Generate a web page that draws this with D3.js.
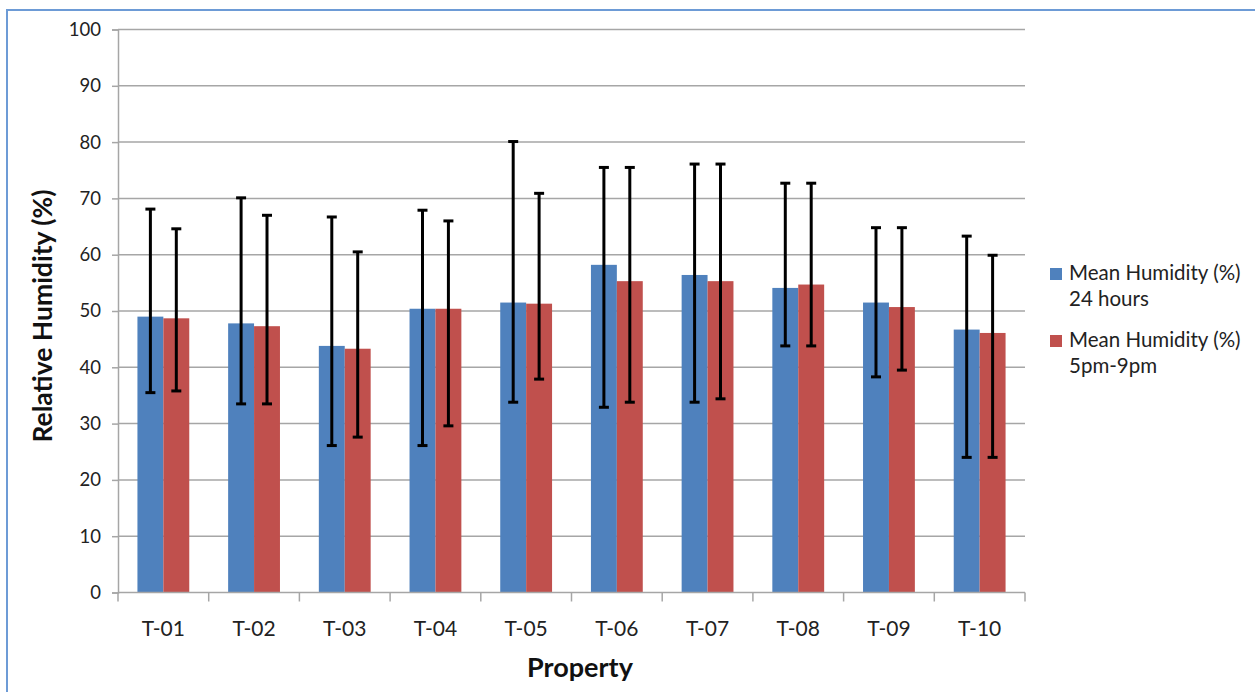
<!DOCTYPE html>
<html><head><meta charset="utf-8">
<script src="https://cdn.jsdelivr.net/npm/d3@7"></script>
<style>body{margin:0;background:#fff;} svg{display:block;font-family:Lato,"Open Sans",sans-serif;}</style>
</head><body>
<script>
const categories = ["T-01","T-02","T-03","T-04","T-05","T-06","T-07","T-08","T-09","T-10"];
const seriesNames = ["Mean Humidity (%) 24 hours", "Mean Humidity (%) 5pm-9pm"];
const legendLines = [["Mean Humidity (%)","24 hours"],["Mean Humidity (%)","5pm-9pm"]];
const mean24 = [49.0, 47.8, 43.8, 50.4, 51.5, 58.2, 56.4, 54.1, 51.5, 46.7];
const meanEve = [48.7, 47.3, 43.3, 50.4, 51.3, 55.3, 55.3, 54.7, 50.7, 46.1];
const hi24 = [68.1, 70.1, 66.7, 67.9, 80.1, 75.5, 76.1, 72.7, 64.8, 63.3];
const lo24 = [35.5, 33.5, 26.1, 26.1, 33.8, 32.9, 33.8, 43.8, 38.3, 24.0];
const hiEve = [64.6, 67.0, 60.5, 66.0, 70.9, 75.5, 76.1, 72.7, 64.8, 59.9];
const loEve = [35.8, 33.5, 27.6, 29.6, 37.9, 33.8, 34.4, 43.8, 39.5, 24.0];
const yTicks = [0,10,20,30,40,50,60,70,80,90,100];
const colors = ["#4f81bd","#c0504d"];

const W = 1255, H = 692;
const m = {left:118, right:1025, top:29.5, bottom:592.5};
const svg = d3.select("body").append("svg").attr("width",W).attr("height",H);

// outer border
svg.append("rect").attr("x",7).attr("y",10).attr("width",1300).attr("height",800)
  .attr("fill","none").attr("stroke","#6d9bd6").attr("stroke-width",2);

const x = d3.scaleBand().domain(categories).range([m.left,m.right]).paddingInner(0).paddingOuter(0);
const y = d3.scaleLinear().domain([0,100]).range([m.bottom,m.top]);

// gridlines
svg.append("g").selectAll("line").data(yTicks.filter(d=>d>0)).join("line")
  .attr("x1",m.left).attr("x2",m.right).attr("y1",d=>y(d)).attr("y2",d=>y(d))
  .attr("stroke","#a6a6a6").attr("stroke-width",1.5);

// y axis
const yAxis = svg.append("g").attr("transform",`translate(${m.left},0)`)
  .call(d3.axisLeft(y).tickValues(yTicks).tickSize(6).tickPadding(11));
yAxis.select(".domain").attr("stroke","#a6a6a6").attr("stroke-width",1.5);
yAxis.selectAll(".tick line").attr("stroke","#a6a6a6").attr("stroke-width",1.5);
yAxis.selectAll("text").attr("font-size",18.5).attr("fill","#222").attr("font-family","Lato, 'Open Sans', sans-serif");

// bars
const bw = x.bandwidth()/3.5;
const series = [
  {vals:mean24, hi:hi24, lo:lo24},
  {vals:meanEve, hi:hiEve, lo:loEve}
];
series.forEach((s,si)=>{
  const g = svg.append("g");
  g.selectAll("rect").data(categories).join("rect")
    .attr("x",(c)=>x(c)+x.bandwidth()/2 - bw + si*bw)
    .attr("width",bw)
    .attr("y",(c,i)=>y(s.vals[i]))
    .attr("height",(c,i)=>y(0)-y(s.vals[i]))
    .attr("fill",colors[si]);
});
// error bars
series.forEach((s,si)=>{
  const g = svg.append("g").attr("stroke","#000").attr("stroke-width",3);
  categories.forEach((c,i)=>{
    const cx = x(c)+x.bandwidth()/2 - bw + si*bw + bw/2;
    g.append("line").attr("x1",cx).attr("x2",cx).attr("y1",y(s.hi[i])).attr("y2",y(s.lo[i]));
    [s.hi[i], s.lo[i]].forEach(v=>{
      g.append("line").attr("x1",cx-5).attr("x2",cx+5).attr("y1",y(v)).attr("y2",y(v));
    });
  });
});

// x axis
const xb = svg.append("g");
xb.append("line").attr("x1",m.left).attr("x2",m.right).attr("y1",y(0)).attr("y2",y(0))
  .attr("stroke","#a6a6a6").attr("stroke-width",1.5);
xb.selectAll("line.tk").data(categories.concat(["end"])).join("line").attr("class","tk")
  .attr("x1",(c,i)=>i<categories.length? x(c): m.right).attr("x2",(c,i)=>i<categories.length? x(c): m.right)
  .attr("y1",y(0)).attr("y2",y(0)+9).attr("stroke","#a6a6a6").attr("stroke-width",1.5);
xb.selectAll("text").data(categories).join("text")
  .attr("x",c=>x(c)+x.bandwidth()/2).attr("y",636).attr("text-anchor","middle")
  .attr("font-size",21).attr("fill","#222").text(c=>c);

// axis titles
svg.append("text").attr("x",580).attr("y",677).attr("text-anchor","middle")
  .attr("font-size",27).attr("font-weight","bold").attr("fill","#111").text("Property");
svg.append("text").attr("transform","translate(52,316) rotate(-90)").attr("text-anchor","middle")
  .attr("font-size",26.5).attr("font-weight","bold").attr("fill","#111").text("Relative Humidity (%)");

// legend
const lg = svg.append("g");
legendLines.forEach((lines,i)=>{
  const top = 264 + i*67;
  lg.append("rect").attr("x",1050).attr("y",top+4).attr("width",12).attr("height",12).attr("fill",colors[i]);
  lines.forEach((t,j)=>{
    lg.append("text").attr("x",1069).attr("y",top+16+j*26).attr("font-size",20.5).attr("fill","#222").text(t);
  });
});
</script>
</body></html>
